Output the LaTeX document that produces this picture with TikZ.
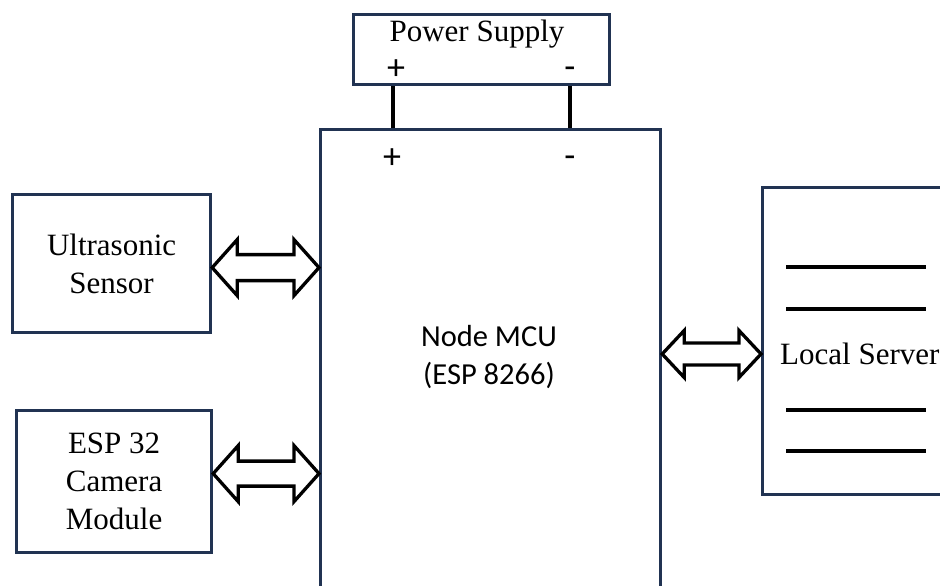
\documentclass[tikz,border=0pt]{standalone}
\usepackage{fontspec}
\setmainfont{Liberation Serif}
\newfontfamily\calib{Carlito}
\usetikzlibrary{calc}
\definecolor{boxblue}{RGB}{33,51,82}
\newcommand\dblarr[5]{%
  \draw[dbl] (#1) -- ($(#1)+(#5,-#3)$) -- ($(#1)+(#5,-#4)$) -- ($(#2)+(-#5,-#4)$) -- ($(#2)+(-#5,-#3)$) -- (#2)
    -- ($(#2)+(-#5,#3)$) -- ($(#2)+(-#5,#4)$) -- ($(#1)+(#5,#4)$) -- ($(#1)+(#5,#3)$) -- cycle;}
\begin{document}
\begin{tikzpicture}[x=1pt,y=-1pt,
  blk/.style={draw=boxblue,line width=3.2pt,rectangle,inner sep=0pt,anchor=north west},
  lbl/.style={font=\fontsize{31}{38}\selectfont,align=center,inner sep=0pt},
  sans/.style={font=\calib\fontsize{30.5}{38}\selectfont,align=center,inner sep=0pt},
  sign/.style={font=\calib\fontsize{36}{38}\selectfont,inner sep=0pt},
  wire/.style={line width=3.8pt,black},
  dbl/.style={draw=black,line width=3.3pt,fill=white,line join=miter}]
\useasboundingbox (0,0) rectangle (940,586);
\clip (0,0) rectangle (940,586);

% blocks
\node[blk,minimum width=198,minimum height=138] (us) at (11,193) {};
\node[blk,minimum width=195,minimum height=142] (cam) at (15,409) {};
\node[blk,minimum width=340,minimum height=520] (mcu) at (319,128) {};
\node[blk,minimum width=256,minimum height=70] (ps) at (352,13) {};
\node[blk,minimum width=220,minimum height=307] (srv) at (761,186) {};

% labels
\node[lbl] (ustext) at (us.center) {Ultrasonic\\Sensor};
\node[lbl] (camtext) at (cam.center) {ESP 32\\Camera\\Module};
\node[sans] (mcutext) at (489,357) {Node MCU\\(ESP 8266)};
\node[lbl,anchor=base] (pstext) at (477,42) {Power Supply};
\node[lbl,anchor=west] (srvlbl) at (780,354) {Local Server};

% power terminals
\node[sign] (psplus) at (396,70) {+};
\node[sign] (psminus) at (570,73) {-};
\node[sign] (mplus) at (392,159) {+};
\node[sign] (mminus) at (570,162) {-};
\draw[wire] (ps.south -| 393,0) -- (mcu.north -| 393,0);
\draw[wire] (ps.south -| psminus) -- (mcu.north -| psminus);

% server lines
\foreach \yy in {81,123,224,265}
  \draw[wire] ($(srv.north west)+(25,\yy)$) -- ++(140,0);

% double arrows
\coordinate (a1) at ($(us.east)+(0,4)$);
\coordinate (a2) at (a1 -| mcu.west);
\coordinate (b1) at ($(cam.east)+(0,-8)$);
\coordinate (b2) at (b1 -| mcu.west);
\coordinate (c1) at (srvlbl.west -| mcu.east);
\coordinate (c2) at (srvlbl.west -| srv.west);
\dblarr{a1}{a2}{28}{13}{25}
\dblarr{b1}{b2}{28}{12.5}{25}
\dblarr{c1}{c2}{23.5}{11}{22}
\end{tikzpicture}
\end{document}
